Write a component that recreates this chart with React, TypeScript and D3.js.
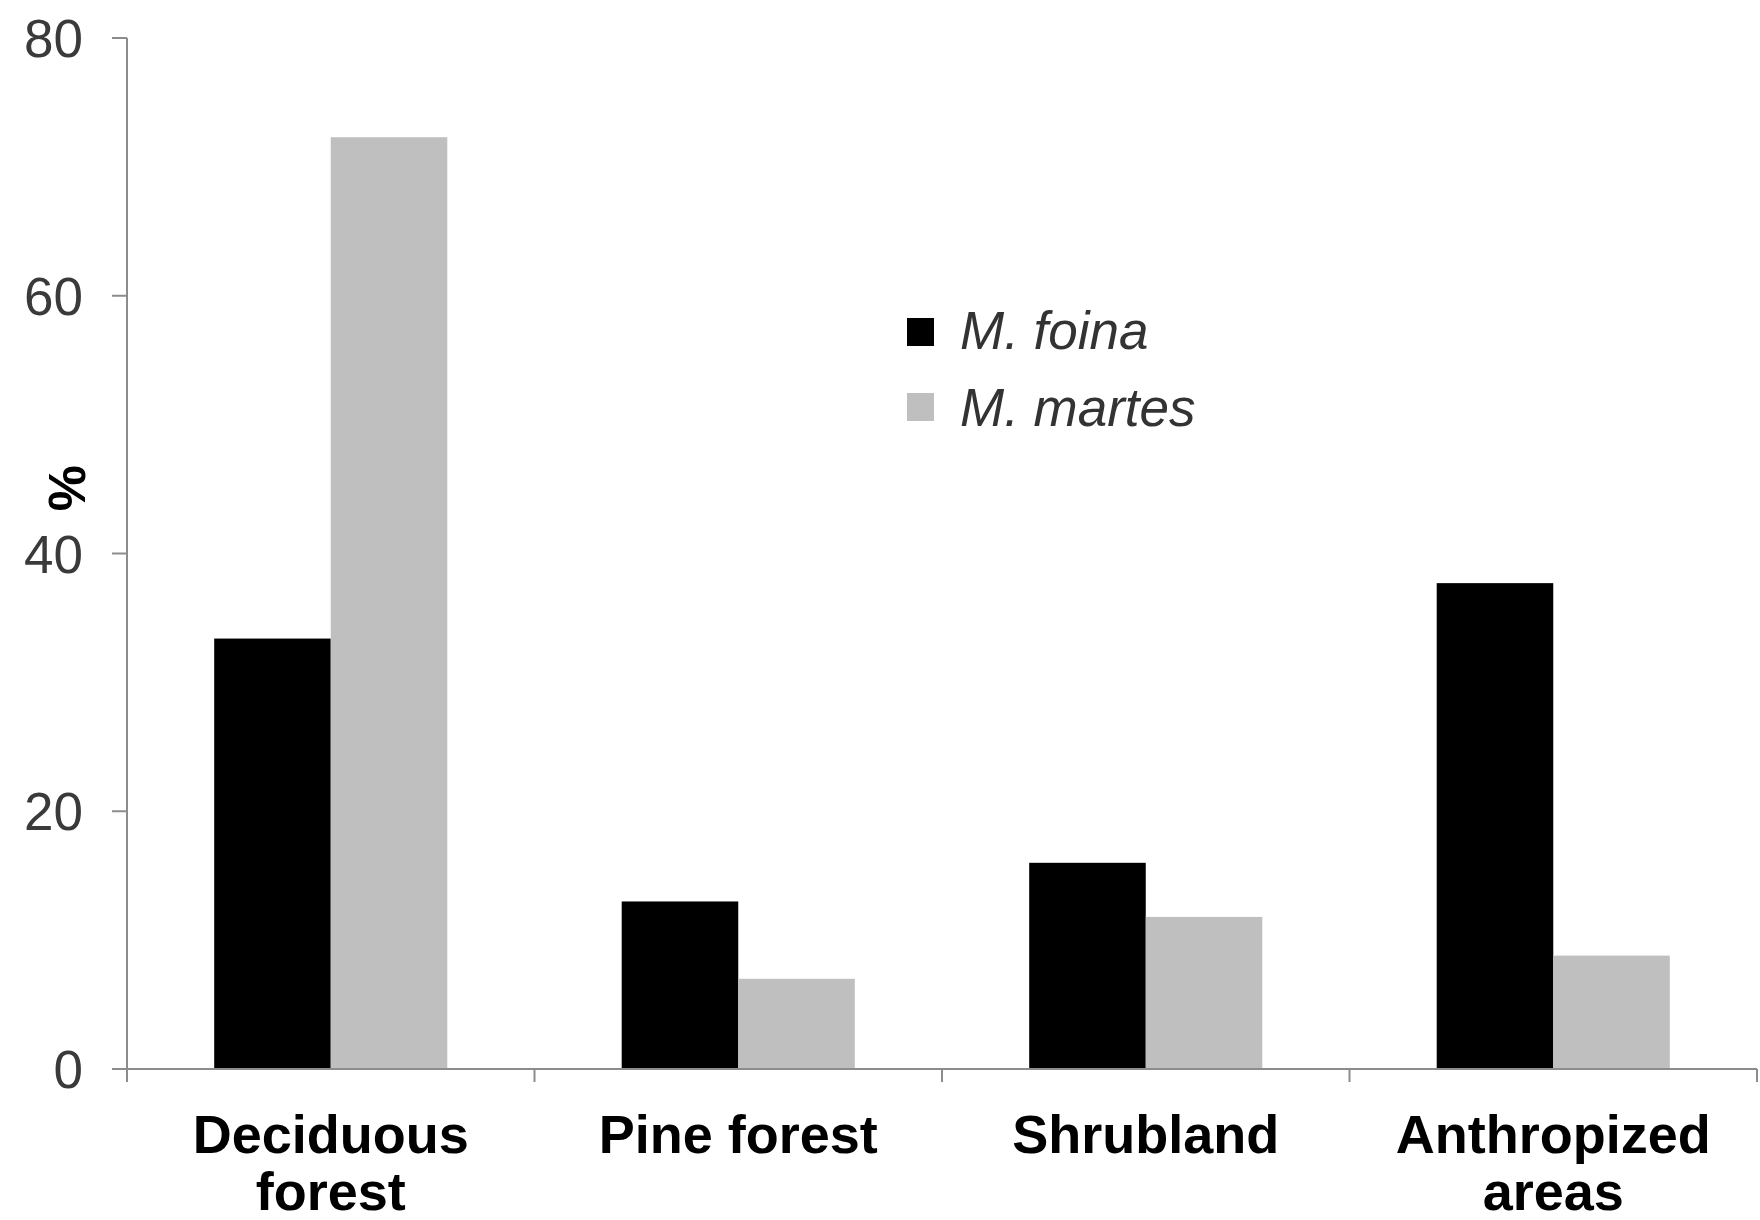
import React from "react";
import * as d3 from "d3";

const categories: string[][] = [
  ["Deciduous", "forest"],
  ["Pine forest"],
  ["Shrubland"],
  ["Anthropized", "areas"],
];
const categoryKeys = ["Deciduous forest", "Pine forest", "Shrubland", "Anthropized areas"];
const seriesNames = ["M. foina", "M. martes"];
const foinaValues = [33.4, 13.0, 16.0, 37.7];
const martesValues = [72.3, 7.0, 11.8, 8.8];
const seriesColors = ["#000000", "#bfbfbf"];
const yTicks = [0, 20, 40, 60, 80];

const W = 1760;
const H = 1220;
const left = 127;
const right = 1757;
const top = 38;
const bottom = 1069;

export default function App() {
  const y = d3.scaleLinear().domain([0, 80]).range([bottom, top]);
  const x0 = d3
    .scaleBand<string>()
    .domain(categoryKeys)
    .range([left, right])
    .paddingInner(0.428)
    .paddingOuter(0.214);
  const x1 = d3.scaleBand<string>().domain(seriesNames).range([0, x0.bandwidth()]).padding(0);
  const step = x0.step();
  const series = [foinaValues, martesValues];
  const boundaries = d3.range(categoryKeys.length + 1).map((i) => left + i * step);

  return (
    <svg
      width={W}
      height={H}
      style={{ position: "absolute", left: 0, top: 0, background: "#fff" }}
      fontFamily="'Liberation Sans', Arial, sans-serif"
    >
      {/* bars */}
      {categoryKeys.map((c, ci) =>
        seriesNames.map((s, si) => (
          <rect
            key={c + s}
            x={(x0(c) as number) + (x1(s) as number)}
            y={y(series[si][ci])}
            width={x1.bandwidth()}
            height={y(0) - y(series[si][ci])}
            fill={seriesColors[si]}
          />
        ))
      )}
      {/* y axis */}
      <line x1={left} x2={left} y1={top} y2={bottom} stroke="#8c8c8c" strokeWidth={2} />
      {yTicks.map((t) => (
        <g key={t}>
          <line x1={left - 15} x2={left} y1={y(t)} y2={y(t)} stroke="#8c8c8c" strokeWidth={2} />
          <text
            x={left - 44}
            y={y(t)}
            dy="0.36em"
            textAnchor="end"
            fontSize={53}
            fill="#3a3a3a"
          >
            {t}
          </text>
        </g>
      ))}
      {/* x axis */}
      <line x1={left - 15} x2={right} y1={bottom} y2={bottom} stroke="#8c8c8c" strokeWidth={2} />
      {boundaries.map((b, i) => (
        <line key={i} x1={b} x2={b} y1={bottom} y2={bottom + 13} stroke="#8c8c8c" strokeWidth={2} />
      ))}
      {categoryKeys.map((c, ci) => (
        <text
          key={c}
          x={(x0(c) as number) + x0.bandwidth() / 2}
          textAnchor="middle"
          fontSize={54}
          fontWeight="bold"
          fill="#000"
        >
          {categories[ci].map((line, li) => (
            <tspan key={li} x={(x0(c) as number) + x0.bandwidth() / 2} y={1153 + li * 57}>
              {line}
            </tspan>
          ))}
        </text>
      ))}
      {/* y label */}
      <text
        transform={`translate(85, 488) rotate(-90)`}
        textAnchor="middle"
        fontSize={52}
        fontWeight="bold"
        fill="#000"
      >
        %
      </text>
      {/* legend */}
      {seriesNames.map((s, si) => (
        <g key={s}>
          <rect x={907} y={318 + si * 75} width={27} height={28} fill={seriesColors[si]} />
          <text x={960} y={349 + si * 77} fontSize={53} fontStyle="italic" fill="#333">
            {s}
          </text>
        </g>
      ))}
    </svg>
  );
}
